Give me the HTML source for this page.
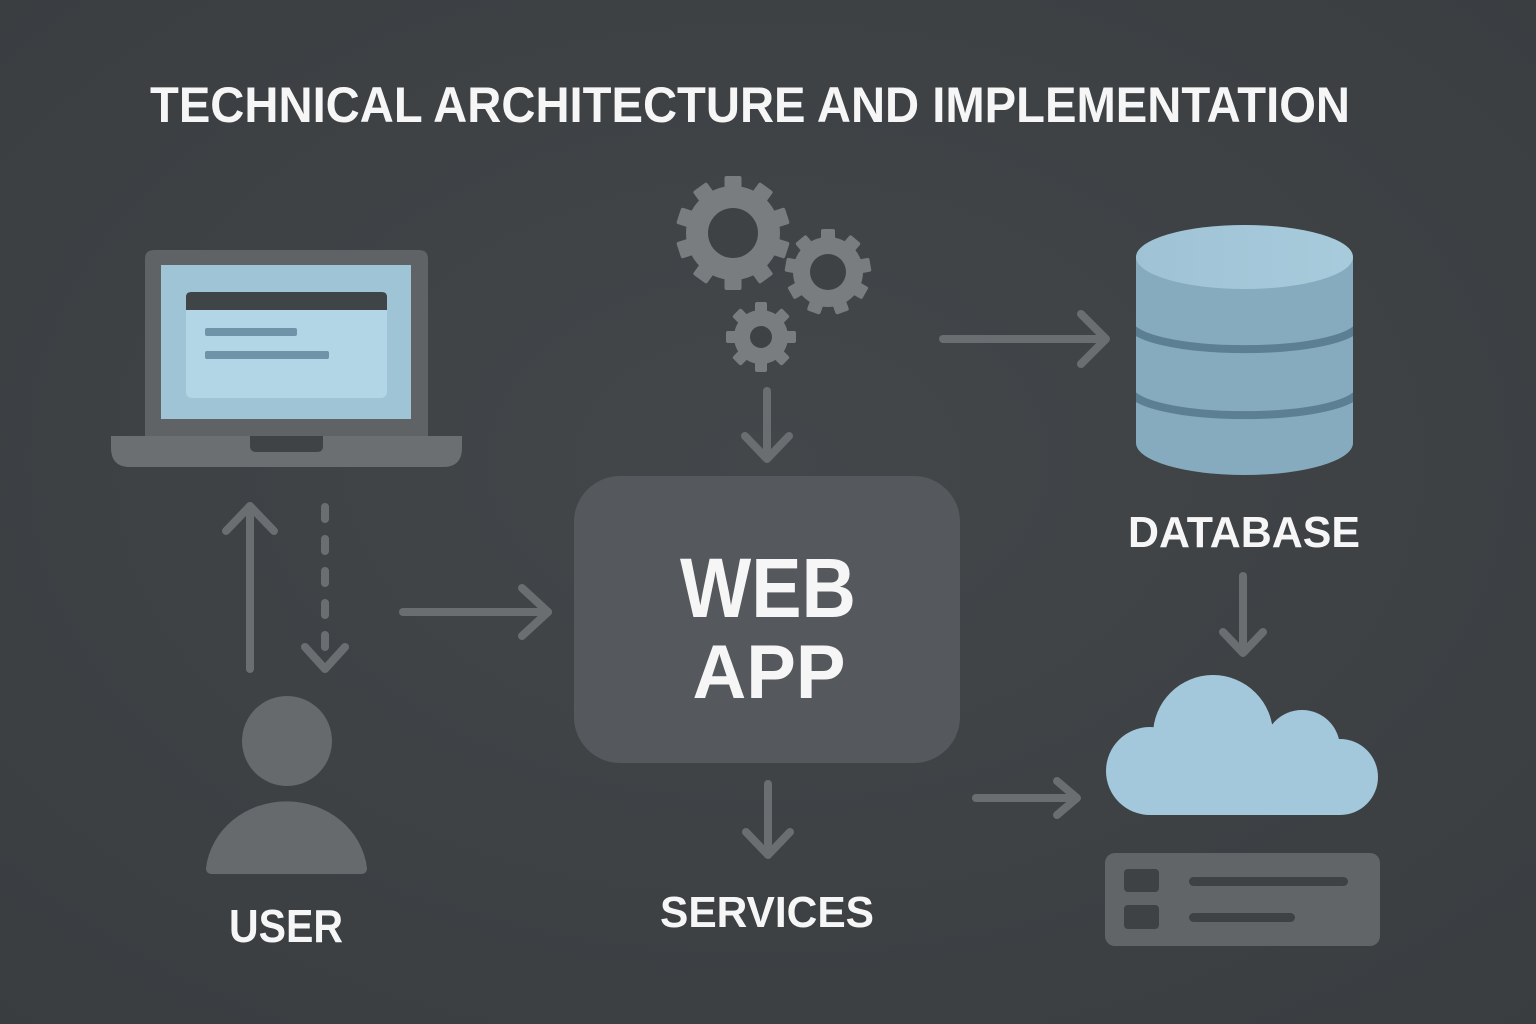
<!DOCTYPE html>
<html>
<head>
<meta charset="utf-8">
<style>
  html,body{margin:0;padding:0;background:#3d4144;}
  svg{display:block;}
  text{font-family:"Liberation Sans",sans-serif;font-weight:bold;fill:#f6f6f6;}
</style>
</head>
<body>
<svg width="1536" height="1024" viewBox="0 0 1536 1024" xmlns="http://www.w3.org/2000/svg">
  <defs>
    <radialGradient id="bg" cx="50%" cy="45%" r="75%">
      <stop offset="0" stop-color="#43474a"/>
      <stop offset="1" stop-color="#393d40"/>
    </radialGradient>
    <linearGradient id="dbtop" x1="0" y1="0" x2="1" y2="0">
      <stop offset="0" stop-color="#9fc3d5"/>
      <stop offset="1" stop-color="#a8cbdc"/>
    </linearGradient>
    <clipPath id="cyl">
      <path d="M1136,257 L1136,443 A108.5,32 0 0 0 1353,443 L1353,257 Z"/>
    </clipPath>
  </defs>
  <rect width="1536" height="1024" fill="url(#bg)"/>

  <!-- Title -->
  <text x="150" y="122" font-size="50" textLength="1200" lengthAdjust="spacingAndGlyphs">TECHNICAL ARCHITECTURE AND IMPLEMENTATION</text>

  <!-- Laptop -->
  <path d="M145,436 L145,259 Q145,250 154,250 L419,250 Q428,250 428,259 L428,436 Z" fill="#5f6366"/>
  <rect x="161" y="265" width="250" height="154" fill="#9fc4d6"/>
  <rect x="186" y="292" width="201" height="106" rx="6" fill="#b2d6e5"/>
  <path d="M186,310 L186,297 Q186,292 191,292 L382,292 Q387,292 387,297 L387,310 Z" fill="#3f4447"/>
  <rect x="205" y="328" width="92" height="8" rx="2" fill="#6f94a9"/>
  <rect x="205" y="351" width="124" height="8" rx="2" fill="#6f94a9"/>
  <path d="M111,436 L462,436 L462,448 Q462,467 443,467 L130,467 Q111,467 111,448 Z" fill="#6b6f72"/>
  <path d="M250,436 L323,436 L323,446 Q323,452 317,452 L256,452 Q250,452 250,446 Z" fill="#3f4346"/>

  <!-- Left arrows -->
  <g stroke="#6a6e71" stroke-width="8" stroke-linecap="round" stroke-linejoin="round" fill="none">
    <line x1="250" y1="669" x2="250" y2="506"/>
    <polyline points="226,531 250,506 274,531"/>
    <line x1="325" y1="507" x2="325" y2="668" stroke-dasharray="12,20" stroke-linecap="round"/>
    <polyline points="305,647 325,669 345,647"/>
    <line x1="403" y1="612" x2="548" y2="612"/>
    <polyline points="522,588 548,612 522,636"/>
  </g>

  <!-- User -->
  <circle cx="287" cy="741" r="45" fill="#666a6d"/>
  <path d="M206,868 A81,75 0 0 1 367,868 Q367,874 361,874 L212,874 Q206,874 206,868 Z" fill="#666a6d"/>
  <text x="286" y="942" font-size="46" text-anchor="middle" textLength="114" lengthAdjust="spacingAndGlyphs">USER</text>

  <!-- Gears -->
  <g fill="#797d80">
    <g transform="translate(733,233)">
      <circle r="47"/>
      <rect x="-8.5" y="-57" width="17" height="20" rx="2" transform="rotate(0)"/>
      <rect x="-8.5" y="-57" width="17" height="20" rx="2" transform="rotate(36)"/>
      <rect x="-8.5" y="-57" width="17" height="20" rx="2" transform="rotate(72)"/>
      <rect x="-8.5" y="-57" width="17" height="20" rx="2" transform="rotate(108)"/>
      <rect x="-8.5" y="-57" width="17" height="20" rx="2" transform="rotate(144)"/>
      <rect x="-8.5" y="-57" width="17" height="20" rx="2" transform="rotate(180)"/>
      <rect x="-8.5" y="-57" width="17" height="20" rx="2" transform="rotate(216)"/>
      <rect x="-8.5" y="-57" width="17" height="20" rx="2" transform="rotate(252)"/>
      <rect x="-8.5" y="-57" width="17" height="20" rx="2" transform="rotate(288)"/>
      <rect x="-8.5" y="-57" width="17" height="20" rx="2" transform="rotate(324)"/>
      <circle r="25" fill="#3e4245"/>
    </g>
    <g transform="translate(828,272)">
      <circle r="35"/>
      <rect x="-7" y="-43" width="14" height="16" rx="2" transform="rotate(0)"/>
      <rect x="-7" y="-43" width="14" height="16" rx="2" transform="rotate(40)"/>
      <rect x="-7" y="-43" width="14" height="16" rx="2" transform="rotate(80)"/>
      <rect x="-7" y="-43" width="14" height="16" rx="2" transform="rotate(120)"/>
      <rect x="-7" y="-43" width="14" height="16" rx="2" transform="rotate(160)"/>
      <rect x="-7" y="-43" width="14" height="16" rx="2" transform="rotate(200)"/>
      <rect x="-7" y="-43" width="14" height="16" rx="2" transform="rotate(240)"/>
      <rect x="-7" y="-43" width="14" height="16" rx="2" transform="rotate(280)"/>
      <rect x="-7" y="-43" width="14" height="16" rx="2" transform="rotate(320)"/>
      <circle r="18" fill="#3e4245"/>
    </g>
    <g transform="translate(761,337)">
      <circle r="27"/>
      <rect x="-6" y="-35" width="12" height="14" rx="2" transform="rotate(0)"/>
      <rect x="-6" y="-35" width="12" height="14" rx="2" transform="rotate(45)"/>
      <rect x="-6" y="-35" width="12" height="14" rx="2" transform="rotate(90)"/>
      <rect x="-6" y="-35" width="12" height="14" rx="2" transform="rotate(135)"/>
      <rect x="-6" y="-35" width="12" height="14" rx="2" transform="rotate(180)"/>
      <rect x="-6" y="-35" width="12" height="14" rx="2" transform="rotate(225)"/>
      <rect x="-6" y="-35" width="12" height="14" rx="2" transform="rotate(270)"/>
      <rect x="-6" y="-35" width="12" height="14" rx="2" transform="rotate(315)"/>
      <circle r="11" fill="#3e4245"/>
    </g>
  </g>

  <!-- Center arrows -->
  <g stroke="#6a6e71" stroke-width="8" stroke-linecap="round" stroke-linejoin="round" fill="none">
    <line x1="767" y1="391" x2="767" y2="458"/>
    <polyline points="745,436 767,459 789,436"/>
    <line x1="768" y1="784" x2="768" y2="853"/>
    <polyline points="746,832 768,855 790,832"/>
    <line x1="943" y1="339" x2="1105" y2="339"/>
    <polyline points="1081,314 1106,339 1081,364"/>
    <line x1="976" y1="798" x2="1076" y2="798"/>
    <polyline points="1057,781 1077,798 1057,815"/>
    <line x1="1243" y1="576" x2="1243" y2="652"/>
    <polyline points="1223,632 1243,653 1263,632"/>
  </g>

  <!-- Web App box -->
  <rect x="574" y="476" width="386" height="287" rx="46" fill="#55595d"/>
  <text x="768" y="617" font-size="84" text-anchor="middle" textLength="176" lengthAdjust="spacingAndGlyphs">WEB</text>
  <text x="769" y="698" font-size="76" text-anchor="middle" textLength="153" lengthAdjust="spacingAndGlyphs">APP</text>

  <text x="767" y="927" font-size="44" text-anchor="middle" textLength="214" lengthAdjust="spacingAndGlyphs">SERVICES</text>

  <!-- Database -->
  <path d="M1136,257 L1136,443 A108.5,32 0 0 0 1353,443 L1353,257 Z" fill="#86abbe"/>
  <g clip-path="url(#cyl)">
    <path d="M1130,323 A114,26 0 0 0 1359,323" stroke="#5d7f93" stroke-width="8" fill="none"/>
    <path d="M1130,389 A114,26 0 0 0 1359,389" stroke="#5d7f93" stroke-width="8" fill="none"/>
  </g>
  <ellipse cx="1244.5" cy="257" rx="108.5" ry="32" fill="url(#dbtop)"/>
  <text x="1244" y="547" font-size="44" text-anchor="middle" textLength="232" lengthAdjust="spacingAndGlyphs">DATABASE</text>

  <!-- Cloud -->
  <g fill="#a3c8dc">
    <circle cx="1150" cy="771" r="44"/>
    <circle cx="1213" cy="735" r="60"/>
    <circle cx="1302" cy="748" r="38"/>
    <circle cx="1340" cy="777" r="38"/>
    <rect x="1150" y="745" width="190" height="70"/>
  </g>

  <!-- Server panel -->
  <rect x="1105" y="853" width="275" height="93" rx="10" fill="#616568"/>
  <rect x="1124" y="869" width="35" height="23" rx="4" fill="#3e4245"/>
  <rect x="1124" y="905" width="35" height="24" rx="4" fill="#3e4245"/>
  <rect x="1189" y="877" width="159" height="9" rx="4.5" fill="#3e4245"/>
  <rect x="1189" y="913" width="106" height="9" rx="4.5" fill="#3e4245"/>
</svg>
</body>
</html>
